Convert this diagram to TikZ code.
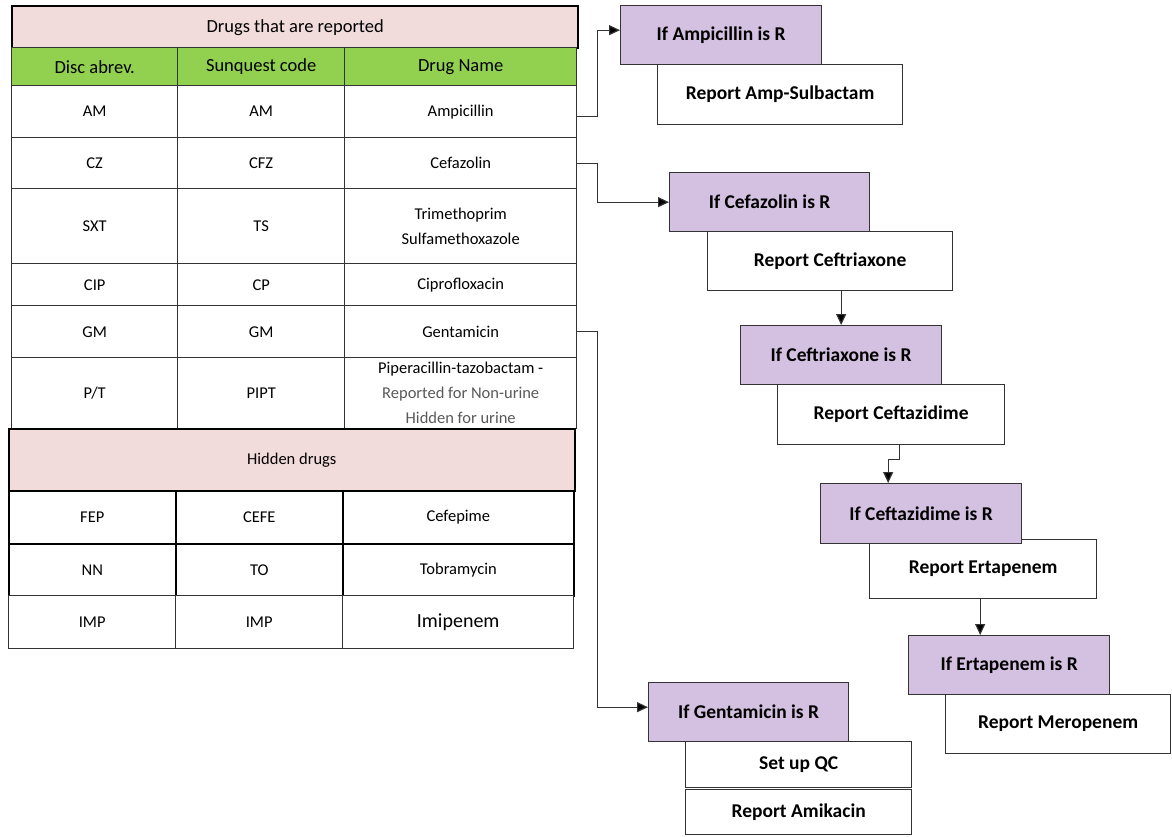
\documentclass[tikz,border=0pt]{standalone}
\usepackage{fontspec}
\setmainfont{Carlito}
\usetikzlibrary{arrows.meta,calc}
\definecolor{pinkc}{HTML}{F2DCDB}
\definecolor{greenc}{HTML}{92D050}
\definecolor{purplec}{HTML}{D4C0E0}
\definecolor{linec}{HTML}{333333}
\definecolor{grayt}{HTML}{595959}
\begin{document}
\begin{tikzpicture}[x=1pt,y=-1pt,
  cell/.style={draw=linec, line width=1.4pt, anchor=north west, inner sep=0pt, align=center,
    font=\fontsize{16.5}{25}\selectfont, fill=white},
  hcell/.style={cell, font=\fontsize{18.5}{22}\selectfont},
  lcell/.style={cell, draw=black, line width=1.6pt},
  ifbox/.style={draw=linec, line width=1.3pt, anchor=north west, inner sep=0pt, align=center,
    fill=purplec, font=\bfseries\fontsize{19.5}{23}\selectfont},
  repbox/.style={ifbox, fill=white},
  conn/.style={draw=linec, line width=1.2pt, -{Triangle[length=11pt,width=10pt,fill=black]}}
]
\useasboundingbox (0,0) rectangle (1172,836);
% ---------- reported drugs table ----------
\node[hcell, fill=pinkc, draw=black, line width=2.4pt, minimum width=566pt, minimum height=42pt] (title) at (11,5) {Drugs that are reported};
\node[hcell, fill=greenc, minimum width=166pt, minimum height=38pt] (h1) at (11,47) {Disc abrev.};
\node[hcell, fill=greenc, minimum width=167pt, minimum height=38pt] (h2) at (177,47) {Sunquest code};
\node[hcell, fill=greenc, minimum width=232pt, minimum height=38pt] (h3) at (344,47) {Drug Name};
% AM
\node[cell, minimum width=166pt, minimum height=52pt] (am1) at (11,85) {AM};
\node[cell, minimum width=167pt, minimum height=52pt] (am2) at (177,85) {AM};
\node[cell, minimum width=232pt, minimum height=52pt] (am3) at (344,85) {Ampicillin};
% CZ
\node[cell, minimum width=166pt, minimum height=51pt] (cz1) at (11,137) {CZ};
\node[cell, minimum width=167pt, minimum height=51pt] (cz2) at (177,137) {CFZ};
\node[cell, minimum width=232pt, minimum height=51pt] (cz3) at (344,137) {Cefazolin};
% SXT
\node[cell, minimum width=166pt, minimum height=75pt] (sx1) at (11,188) {SXT};
\node[cell, minimum width=167pt, minimum height=75pt] (sx2) at (177,188) {TS};
\node[cell, minimum width=232pt, minimum height=75pt] (sx3) at (344,188) {Trimethoprim\\Sulfamethoxazole};
% CIP
\node[cell, minimum width=166pt, minimum height=42pt] (ci1) at (11,263) {CIP};
\node[cell, minimum width=167pt, minimum height=42pt] (ci2) at (177,263) {CP};
\node[cell, minimum width=232pt, minimum height=42pt] (ci3) at (344,263) {Ciprofloxacin};
% GM
\node[cell, minimum width=166pt, minimum height=52pt] (gm1) at (11,305) {GM};
\node[cell, minimum width=167pt, minimum height=52pt] (gm2) at (177,305) {GM};
\node[cell, minimum width=232pt, minimum height=52pt] (gm3) at (344,305) {Gentamicin};
% P/T
\node[cell, minimum width=166pt, minimum height=71pt] (pt1) at (11,357) {P/T};
\node[cell, minimum width=167pt, minimum height=71pt] (pt2) at (177,357) {PIPT};
\node[cell, minimum width=232pt, minimum height=71pt] (pt3) at (344,357) {Piperacillin-tazobactam -\\\textcolor{grayt}{Reported for Non-urine}\\\textcolor{grayt}{Hidden for urine}};
% ---------- hidden drugs ----------
\node[lcell, fill=pinkc, minimum width=566pt, minimum height=62pt] (hid) at (8,428) {Hidden drugs};
\node[lcell, minimum width=167pt, minimum height=53pt] (fe1) at (8,490) {FEP};
\node[lcell, minimum width=167pt, minimum height=53pt] (fe2) at (175,490) {CEFE};
\node[lcell, minimum width=231pt, minimum height=53pt] (fe3) at (342,490) {Cefepime};
\node[lcell, minimum width=167pt, minimum height=52pt] (nn1) at (8,543) {NN};
\node[lcell, minimum width=167pt, minimum height=52pt] (nn2) at (175,543) {TO};
\node[lcell, minimum width=231pt, minimum height=52pt] (nn3) at (342,543) {Tobramycin};
\node[cell, minimum width=167pt, minimum height=53pt] (ip1) at (8,595) {IMP};
\node[cell, minimum width=167pt, minimum height=53pt] (ip2) at (175,595) {IMP};
\node[cell, minimum width=231pt, minimum height=53pt, font=\fontsize{20}{24}\selectfont] (ip3) at (342,595) {Imipenem};
% ---------- decision boxes ----------
\node[repbox, minimum width=245pt, minimum height=60pt] (ramp) at (657,64) {Report Amp-Sulbactam};
\node[ifbox, minimum width=201pt, minimum height=59pt] (ifamp) at (620,5) {If Ampicillin is R};

\node[repbox, minimum width=245pt, minimum height=59pt] (rcefx) at (707,231) {Report Ceftriaxone};
\node[ifbox, minimum width=200pt, minimum height=59pt] (ifcef) at (669,172) {If Cefazolin is R};

\node[repbox, minimum width=227pt, minimum height=60pt] (rcefz) at (777,384) {Report Ceftazidime};
\node[ifbox, minimum width=201pt, minimum height=59pt] (ifcefx) at (740,325) {If Ceftriaxone is R};

\node[repbox, minimum width=227pt, minimum height=59pt] (rert) at (869,539) {Report Ertapenem};
\node[ifbox, minimum width=201pt, minimum height=60pt] (ifcefz) at (820,483) {If Ceftazidime is R};

\node[repbox, minimum width=225pt, minimum height=59pt] (rmer) at (945,694) {Report Meropenem};
\node[ifbox, minimum width=201pt, minimum height=59pt] (ifert) at (908,635) {If Ertapenem is R};

\node[repbox, minimum width=226pt, minimum height=46pt] (qc) at (685,741) {Set up QC};
\node[repbox, minimum width=226pt, minimum height=45pt] (amik) at (685,789) {Report Amikacin};
\node[ifbox, minimum width=200pt, minimum height=59pt] (ifgen) at (648,682) {If Gentamicin is R};
% ---------- connectors ----------
\draw[conn] ([yshift=-5pt]am3.east) -- ++(20,0) |- ([yshift=5pt]ifamp.west);
\draw[conn] (cz3.east) -- ++(20,0) |- (ifcef.west);
\draw[conn] (gm3.east) -- ++(20,0) |- ([yshift=5pt]ifgen.west);
\draw[conn] (rcefx.south -| ifcefx.north) -- (ifcefx.north);
\draw[conn] ([xshift=8pt]rcefz.south) -- ++(0,14) -| ([xshift=-33pt]ifcefz.north);
\draw[conn] ([xshift=-3pt]rert.south) -- ([xshift=-3pt]rert.south |- ifert.north);
\end{tikzpicture}
\end{document}
